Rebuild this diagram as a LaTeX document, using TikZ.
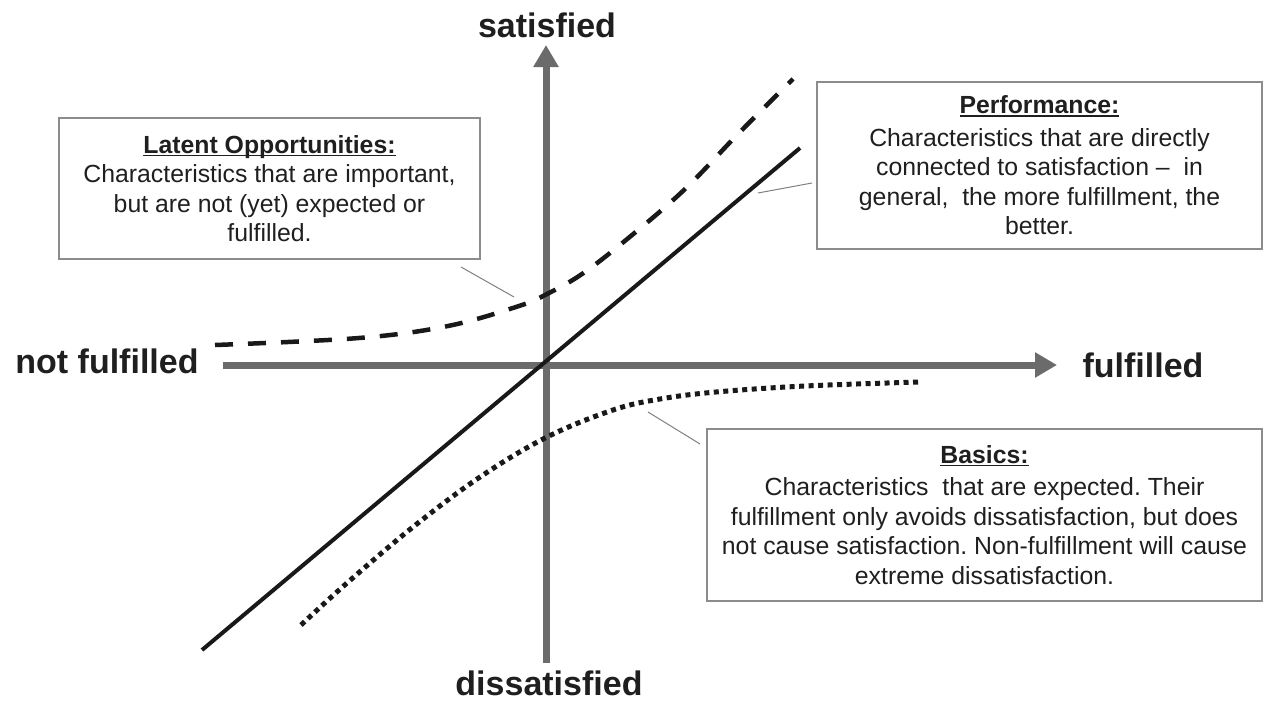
\documentclass[tikz,border=0pt]{standalone}
\usepackage{fontspec}
\setsansfont{Liberation Sans}
\usetikzlibrary{arrows.meta}
\frenchspacing

\definecolor{axisgray}{HTML}{6B6B6B}
\definecolor{boxgray}{HTML}{8C8C8C}
\newcommand{\boxhead}[1]{\setbox0\hbox{\bfseries #1}\rlap{\rule[-3pt]{\wd0}{1.6pt}}\box0}

\begin{document}
\begin{tikzpicture}[x=1pt, y=-1pt,
		axisline/.style = {draw=axisgray, line width=7pt, -{Triangle[length=22pt, width=24pt]}},
		axislabel/.style = {anchor=base, inner sep=0pt, text=black!88, font=\fontsize{34}{40}\selectfont\sffamily\bfseries},
		infobox/.style = {draw=boxgray, line width=1.4pt, align=center, inner sep=0pt, text=black!88, font=\fontsize{24.8}{29.5}\selectfont\sffamily},
		leader/.style = {draw=black!50, line width=1pt},
		perfline/.style = {line width=4pt, black!90},
		latentline/.style = {line width=4.5pt, black!90, dash pattern=on 18pt off 15pt},
		basicline/.style = {line width=5pt, black!90, dash pattern=on 5pt off 4.5pt}]
	\useasboundingbox (0,0) rectangle (1265,704);
	% axes
	\coordinate (xmin) at (223,365);
	\coordinate (xmax) at (1057,365);
	\coordinate (ymin) at (546,663);
	\coordinate (ymax) at (546,45);
	\draw[axisline] (xmin) -- (xmax);
	\draw[axisline] (ymin) -- (ymax);
	\node[axislabel] (satisfied) at (547,37) {satisfied};
	\node[axislabel] (dissatisfied) at (549,695) {dissatisfied};
	\node[axislabel] (notfulfilled) at (107,373) {not fulfilled};
	\node[axislabel] (fulfilled) at (1143,377) {fulfilled};
	% the three curves
	\coordinate (perflow) at (202,650);
	\coordinate (perfhigh) at (800,148);
	\draw[perfline] (perflow) -- (perfhigh);
	\draw[latentline] plot[smooth, tension=0.6] coordinates {(215,345) (359,338) (448,326) (519,306) (547,294) (582,274) (626,240) (684,190) (738,134) (793,79)};
	\draw[basicline] plot[smooth, tension=0.6] coordinates {(301,625) (347,583) (413,527) (480,477) (547,437) (613,410) (660,399) (716,392) (805,386) (920,382)};
	% boxes
	\node[infobox, minimum width=421pt, minimum height=141pt] (latent) at (269.5,188.5)
		{\boxhead{Latent Opportunities:}\\ Characteristics that are important,\\ but are not (yet) expected or\\ fulfilled.};
	\node[infobox, minimum width=445pt, minimum height=167pt] (performance) at (1039.5,165.5)
		{\boxhead{Performance:}\\[3pt] Characteristics that are directly\\ connected to satisfaction --\ \ in\\ general,\ \ the more fulfillment, the\\ better.};
	\node[infobox, minimum width=555pt, minimum height=172pt] (basics) at (984.5,515)
		{\boxhead{Basics:}\\[3pt] Characteristics\ \ that are expected. Their\\ fulfillment only avoids dissatisfaction, but does\\ not cause satisfaction. Non-fulfillment will cause\\ extreme dissatisfaction.};
	% leaders
	\coordinate (latentfrom) at (461,267);
	\coordinate (latentto) at (514,297);
	\coordinate (perffrom) at (812,183);
	\coordinate (perfto) at (758,193);
	\coordinate (basicsfrom) at (700,444);
	\coordinate (basicsto) at (648,412);
	\draw[leader] (latentfrom) -- (latentto);
	\draw[leader] (perffrom) -- (perfto);
	\draw[leader] (basicsfrom) -- (basicsto);
\end{tikzpicture}
\end{document}
